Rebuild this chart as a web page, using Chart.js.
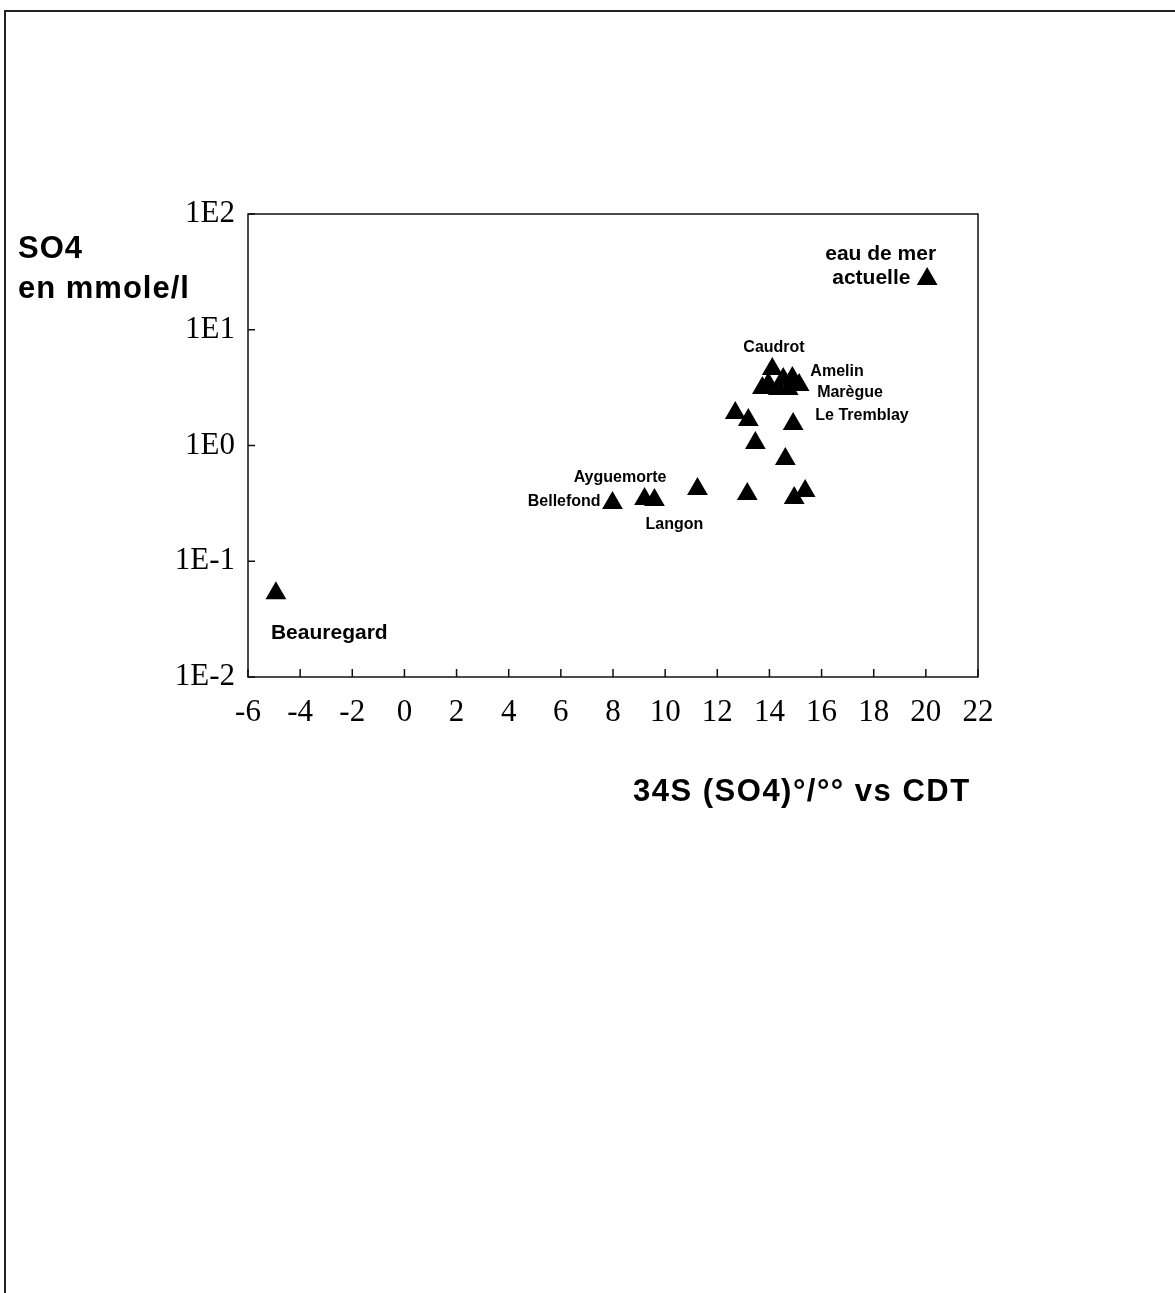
<!DOCTYPE html>
<html>
<head>
<meta charset="utf-8">
<script src="https://cdn.jsdelivr.net/npm/chart.js@4"></script>
<style>
  body { margin: 0; background: #fff; }
  #wrap { position: relative; width: 1175px; height: 1293px; overflow: hidden; }
  #frame { position: absolute; left: 4px; top: 10px; width: 1200px; height: 1300px;
           border-top: 2px solid #222; border-left: 2px solid #222; }
  canvas { position: absolute; left: 0; top: 0; }
  .title { position: absolute; font-family: 'Liberation Sans', Arial, sans-serif; font-weight: bold;
           font-size: 31px; line-height: 31px; color: #000; white-space: nowrap; letter-spacing: 1px; }
</style>
</head>
<body>
<div id="wrap">
  <div id="frame"></div>
  <canvas id="plot" width="1175" height="1293"></canvas>
  <div class="title" style="left:18px; top:232px;">SO4</div>
  <div class="title" style="left:18px; top:272px;">en mmole/l</div>
  <div class="title" style="left:633px; top:775px; letter-spacing:1.5px;">34S (SO4)°/°° vs CDT</div>
</div>
<script>
// delta 34S of sulfate (per mil vs CDT) and SO4 content (mmole/l)
const d34S = [-4.93, 7.98, 9.21, 9.59, 11.24, 13.15, 14.95, 15.37, 14.61, 13.46, 12.69,
              13.19, 14.91, 14.11, 14.53, 14.88, 15.14, 13.73, 13.96, 14.34, 14.72, 20.05];
const so4 = [0.053, 0.318, 0.345, 0.338, 0.421, 0.381, 0.352, 0.405, 0.764, 1.05, 1.91,
             1.66, 1.53, 4.58, 3.75, 3.83, 3.33, 3.14, 3.40, 3.08, 3.08, 27.4];

const xTicks = [-6, -4, -2, 0, 2, 4, 6, 8, 10, 12, 14, 16, 18, 20, 22];
const xTickLabels = ['-6', '-4', '-2', '0', '2', '4', '6', '8', '10', '12', '14', '16', '18', '20', '22'];
const yTicks = [0.01, 0.1, 1, 10, 100];
const yTickLabels = ['1E-2', '1E-1', '1E0', '1E1', '1E2'];

// site names, anchored in data coordinates (left edge, middle of text)
const noteText = ['eau de mer', 'actuelle', 'Caudrot', 'Amelin', 'Marègue', 'Le Tremblay',
                  'Ayguemorte', 'Bellefond', 'Langon', 'Beauregard'];
const noteX = [16.14, 16.41, 13.0, 15.57, 15.83, 15.76, 6.49, 4.73, 9.25, -5.12];
const noteY = [45.1, 28.0, 6.95, 4.31, 2.85, 1.80, 0.524, 0.325, 0.206, 0.024];
const noteBig = ['eau de mer', 'actuelle', 'Beauregard'];

const points = d34S.map((v, i) => ({ x: v, y: so4[i] }));

const frameAndNotes = {
  id: 'frameAndNotes',
  afterDraw(chart) {
    const { ctx, chartArea: a, scales: { x, y } } = chart;
    ctx.save();
    ctx.strokeStyle = '#111';
    ctx.lineWidth = 1.5;
    ctx.strokeRect(a.left, a.top, a.right - a.left, a.bottom - a.top);
    // inward tick marks
    ctx.beginPath();
    x.ticks.forEach(t => {
      const px = x.getPixelForValue(t.value);
      ctx.moveTo(px, a.bottom);
      ctx.lineTo(px, a.bottom - 8);
    });
    y.ticks.forEach(t => {
      const py = y.getPixelForValue(t.value);
      ctx.moveTo(a.left, py);
      ctx.lineTo(a.left + 7, py);
    });
    ctx.stroke();

    ctx.fillStyle = '#000';
    ctx.textAlign = 'left';
    ctx.textBaseline = 'middle';
    noteText.forEach((txt, i) => {
      const big = noteBig.includes(txt);
      ctx.font = 'bold ' + (big ? 21 : 16) + 'px "Liberation Sans", Arial, sans-serif';
      ctx.fillText(txt, x.getPixelForValue(noteX[i]), y.getPixelForValue(noteY[i]));
    });
    ctx.restore();
  }
};

new Chart(document.getElementById('plot'), {
  type: 'scatter',
  data: {
    datasets: [{
      data: points,
      pointStyle: 'triangle',
      pointRadius: 12,
      pointHoverRadius: 12,
      backgroundColor: '#000',
      borderColor: '#000',
      borderWidth: 0
    }]
  },
  options: {
    responsive: false,
    animation: false,
    devicePixelRatio: 1,
    layout: { padding: { top: 214, right: 197, bottom: 546, left: 0 } },
    plugins: { legend: { display: false }, tooltip: { enabled: false } },
    scales: {
      x: {
        type: 'linear',
        min: -6, max: 22,
        grid: { display: false, drawTicks: false },
        border: { display: false },
        afterFit: s => { s.height = 70; },
        afterBuildTicks: s => { s.ticks = xTicks.map(v => ({ value: v })); },
        ticks: {
          padding: 17,
          autoSkip: false,
          maxRotation: 0,
          color: '#000',
          font: { family: 'Liberation Serif', size: 31 },
          callback: v => xTickLabels[xTicks.indexOf(v)]
        }
      },
      y: {
        type: 'logarithmic',
        min: 0.01, max: 100,
        grid: { display: false, drawTicks: false },
        border: { display: false },
        afterFit: s => { s.width = 248; },
        afterBuildTicks: s => { s.ticks = yTicks.map(v => ({ value: v })); },
        ticks: {
          padding: 13,
          autoSkip: false,
          color: '#000',
          font: { family: 'Liberation Serif', size: 31 },
          callback: v => yTickLabels[yTicks.indexOf(v)]
        }
      }
    }
  },
  plugins: [frameAndNotes]
});
</script>
</body>
</html>
